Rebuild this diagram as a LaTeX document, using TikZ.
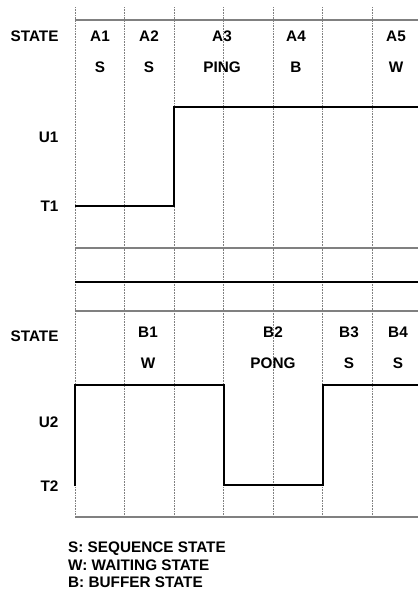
\documentclass[tikz,border=0pt]{standalone}
\usepackage{fontspec}
\setmainfont{Liberation Sans}
\usepackage{tikz}
\usetikzlibrary{positioning}

\begin{document}
\begin{tikzpicture}[x=1pt, y=1pt, node distance=31pt,
    font=\fontsize{15.3}{17.5}\selectfont\bfseries]
    \useasboundingbox (0,0) rectangle (418,-592);

    % grid
    \foreach \k in {0,...,6}
        \draw[gray, densely dotted, line width=0.6pt] (75+49.5*\k,-7) -- (75+49.5*\k,-517);
    \foreach \y in {20,248,311,517}
        \draw[gray, line width=1.2pt] (75,-\y) -- (418,-\y);
    \draw[line width=1.6pt] (75,-282) -- (418,-282);

    % upper states
    \node[anchor=east] (stateA) at (62,-36) {STATE};
    \node (a1) at (100,-36) {A1};
    \node (a2) at (149,-36) {A2};
    \node (a3) at (222,-36) {A3};
    \node (a4) at (296,-36) {A4};
    \node (a5) at (396,-36) {A5};
    \node[below of=a1] (sa1) {S};
    \node[below of=a2] (sa2) {S};
    \node[below of=a3] (ping) {PING};
    \node[below of=a4] (ba4) {B};
    \node[below of=a5] (wa5) {W};

    \node[anchor=east] (u1) at (62,-137) {U1};
    \node[anchor=east] (t1) at (62,-206) {T1};
    \draw[line width=2pt] (75,-206) -- (174,-206) -- (174,-107) -- (418,-107);

    % lower states
    \node[anchor=east] (stateB) at (62,-336) {STATE};
    \node (b1) at (148,-332) {B1};
    \node (b2) at (273,-332) {B2};
    \node (b3) at (349,-332) {B3};
    \node (b4) at (398,-332) {B4};
    \node[below of=b1] (wb1) {W};
    \node[below of=b2] (pong) {PONG};
    \node[below of=b3] (sb3) {S};
    \node[below of=b4] (sb4) {S};

    \node[anchor=east] (u2) at (62,-422) {U2};
    \node[anchor=east] (t2) at (62,-486) {T2};
    \draw[line width=2pt] (75,-486) -- (75,-385) -- (223.5,-385) -- (223.5,-485)
        -- (322.5,-485) -- (322.5,-385) -- (418,-385);

    % legend
    \node[anchor=west, align=left, inner sep=0pt] (legend) at (68,-565)
        {S: SEQUENCE STATE\\W: WAITING STATE\\B: BUFFER STATE};
\end{tikzpicture}
\end{document}
